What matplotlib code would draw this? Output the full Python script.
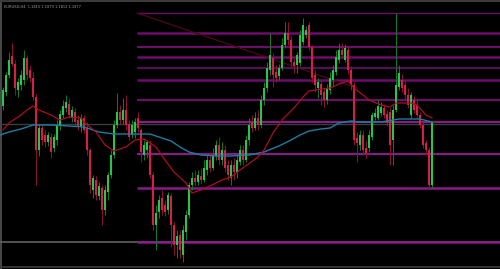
import numpy as np
import matplotlib
matplotlib.use("Agg")
import matplotlib.pyplot as plt

# H4 candles (bar index 0..143)
opens = [1.1894, 1.1908, 1.1925, 1.1944, 1.1936, 1.1910, 1.1915, 1.1920, 1.1942, 1.1930,
         1.1922, 1.1903, 1.1850, 1.1872, 1.1865, 1.1858, 1.1863, 1.1852, 1.1860, 1.1874,
         1.1885, 1.1892, 1.1896, 1.1882, 1.1888, 1.1880, 1.1873, 1.1882, 1.1872, 1.1850,
         1.1810, 1.1820, 1.1804, 1.1812, 1.1790, 1.1808, 1.1825, 1.1845, 1.1875, 1.1888,
         1.1880, 1.1890, 1.1876, 1.1865, 1.1868, 1.1882, 1.1870, 1.1845, 1.1850, 1.1855,
         1.1825, 1.1775, 1.1788, 1.1802, 1.1795, 1.1790, 1.1804, 1.1775, 1.1755, 1.1765,
         1.1745, 1.1768, 1.1785, 1.1815, 1.1822, 1.1818, 1.1824, 1.1820, 1.1830, 1.1840,
         1.1832, 1.1844, 1.1855, 1.1840, 1.1850, 1.1835, 1.1822, 1.1835, 1.1828, 1.1838,
         1.1850, 1.1840, 1.1860, 1.1878, 1.1872, 1.1882, 1.1875, 1.1900, 1.1912, 1.1930,
         1.1942, 1.1928, 1.1924, 1.1932, 1.1955, 1.1967, 1.1960, 1.1938, 1.1935, 1.1937,
         1.1958, 1.1965, 1.1975, 1.1953, 1.1925, 1.1912, 1.1916, 1.1908, 1.1900, 1.1910,
         1.1920, 1.1928, 1.1940, 1.1950, 1.1940, 1.1950, 1.1930, 1.1915, 1.1862, 1.1855,
         1.1865, 1.1852, 1.1852, 1.1863, 1.1883, 1.1882, 1.1887, 1.1892, 1.1886, 1.1888,
         1.1860, 1.1890, 1.1913, 1.1920, 1.1915, 1.1905, 1.1885, 1.1900, 1.1895, 1.1885,
         1.1875, 1.1857, 1.1850, 1.1815]
highs = [1.1913, 1.1928, 1.1948, 1.1957, 1.1940, 1.1922, 1.1930, 1.1950, 1.1945, 1.1935,
         1.1928, 1.1906, 1.1876, 1.1875, 1.1870, 1.1868, 1.1867, 1.1866, 1.1880, 1.1890,
         1.1900, 1.1905, 1.1902, 1.1894, 1.1892, 1.1885, 1.1886, 1.1885, 1.1878, 1.1852,
         1.1825, 1.1824, 1.1818, 1.1815, 1.1815, 1.1828, 1.1850, 1.1880, 1.1907, 1.1895,
         1.1902, 1.1905, 1.1880, 1.1880, 1.1882, 1.1888, 1.1872, 1.1860, 1.1860, 1.1860,
         1.1828, 1.1795, 1.1805, 1.1810, 1.1800, 1.1808, 1.1807, 1.1778, 1.1770, 1.1770,
         1.1775, 1.1790, 1.1818, 1.1828, 1.1830, 1.1830, 1.1832, 1.1840, 1.1845, 1.1848,
         1.1852, 1.1860, 1.1863, 1.1858, 1.1855, 1.1840, 1.1840, 1.1842, 1.1845, 1.1855,
         1.1855, 1.1865, 1.1882, 1.1885, 1.1888, 1.1890, 1.1905, 1.1918, 1.1938, 1.1967,
         1.1947, 1.1935, 1.1936, 1.1962, 1.1978, 1.1978, 1.1964, 1.1942, 1.1948, 1.1970,
         1.1982, 1.1974, 1.1978, 1.1955, 1.1930, 1.1922, 1.1920, 1.1912, 1.1916, 1.1928,
         1.1935, 1.1950, 1.1957, 1.1957, 1.1956, 1.1953, 1.1934, 1.1918, 1.1868, 1.1870,
         1.1870, 1.1860, 1.1870, 1.1888, 1.1892, 1.1900, 1.1898, 1.1896, 1.1890, 1.1892,
         1.1895, 1.1987, 1.1935, 1.1926, 1.1920, 1.1912, 1.1908, 1.1904, 1.1900, 1.1888,
         1.1878, 1.1860, 1.1853, 1.1879]
lows = [1.1890, 1.1904, 1.1922, 1.1934, 1.1905, 1.1903, 1.1910, 1.1915, 1.1920, 1.1918,
        1.1900, 1.1815, 1.1844, 1.1855, 1.1853, 1.1854, 1.1842, 1.1848, 1.1855, 1.1870,
        1.1882, 1.1888, 1.1882, 1.1878, 1.1874, 1.1870, 1.1868, 1.1867, 1.1845, 1.1807,
        1.1802, 1.1800, 1.1800, 1.1775, 1.1785, 1.1800, 1.1822, 1.1842, 1.1872, 1.1876,
        1.1876, 1.1870, 1.1860, 1.1862, 1.1862, 1.1868, 1.1838, 1.1840, 1.1842, 1.1822,
        1.1770, 1.1750, 1.1782, 1.1785, 1.1784, 1.1786, 1.1753, 1.1745, 1.1742, 1.1742,
        1.1738, 1.1760, 1.1782, 1.1810, 1.1814, 1.1815, 1.1816, 1.1818, 1.1825, 1.1828,
        1.1830, 1.1840, 1.1835, 1.1835, 1.1828, 1.1820, 1.1815, 1.1820, 1.1822, 1.1835,
        1.1835, 1.1838, 1.1855, 1.1868, 1.1870, 1.1870, 1.1872, 1.1895, 1.1908, 1.1925,
        1.1913, 1.1918, 1.1920, 1.1930, 1.1952, 1.1955, 1.1934, 1.1927, 1.1927, 1.1934,
        1.1955, 1.1962, 1.1950, 1.1918, 1.1908, 1.1902, 1.1895, 1.1893, 1.1896, 1.1906,
        1.1914, 1.1925, 1.1937, 1.1942, 1.1938, 1.1926, 1.1910, 1.1855, 1.1838, 1.1850,
        1.1845, 1.1842, 1.1848, 1.1860, 1.1880, 1.1880, 1.1884, 1.1882, 1.1874, 1.1835,
        1.1835, 1.1888, 1.1910, 1.1908, 1.1900, 1.1892, 1.1882, 1.1887, 1.1882, 1.1872,
        1.1852, 1.1845, 1.1812, 1.1812]
closes = [1.1910, 1.1925, 1.1940, 1.1936, 1.1912, 1.1918, 1.1925, 1.1942, 1.1925, 1.1922,
          1.1903, 1.1850, 1.1872, 1.1860, 1.1858, 1.1865, 1.1848, 1.1863, 1.1875, 1.1886,
          1.1894, 1.1898, 1.1885, 1.1890, 1.1878, 1.1874, 1.1882, 1.1870, 1.1850, 1.1815,
          1.1822, 1.1805, 1.1814, 1.1790, 1.1810, 1.1825, 1.1845, 1.1875, 1.1888, 1.1880,
          1.1890, 1.1875, 1.1863, 1.1875, 1.1878, 1.1872, 1.1848, 1.1855, 1.1858, 1.1825,
          1.1775, 1.1787, 1.1800, 1.1790, 1.1788, 1.1805, 1.1775, 1.1755, 1.1764, 1.1750,
          1.1770, 1.1785, 1.1815, 1.1822, 1.1818, 1.1825, 1.1820, 1.1832, 1.1840, 1.1832,
          1.1845, 1.1855, 1.1840, 1.1850, 1.1832, 1.1825, 1.1835, 1.1828, 1.1840, 1.1850,
          1.1840, 1.1860, 1.1875, 1.1872, 1.1882, 1.1875, 1.1900, 1.1912, 1.1932, 1.1945,
          1.1925, 1.1922, 1.1932, 1.1955, 1.1967, 1.1960, 1.1938, 1.1934, 1.1945, 1.1965,
          1.1975, 1.1970, 1.1953, 1.1922, 1.1915, 1.1918, 1.1905, 1.1900, 1.1912, 1.1922,
          1.1930, 1.1943, 1.1950, 1.1945, 1.1952, 1.1930, 1.1915, 1.1860, 1.1857, 1.1865,
          1.1850, 1.1847, 1.1865, 1.1885, 1.1887, 1.1894, 1.1893, 1.1885, 1.1877, 1.1855,
          1.1890, 1.1915, 1.1927, 1.1912, 1.1905, 1.1895, 1.1905, 1.1890, 1.1885, 1.1875,
          1.1855, 1.1850, 1.1815, 1.1877]

# moving averages (read at sample bars)
fast_ma_bar = [0, 2, 6, 8, 10, 12, 16, 19, 22, 26, 27, 31, 34, 37, 41, 44, 47, 51, 54, 57,
               61, 63, 66, 69, 73, 76, 79, 85, 87, 90, 93, 97, 100, 102, 106, 109, 112, 115,
               117, 120, 122, 126, 129, 131, 136, 138, 141, 143]
fast_ma = [1.1870, 1.1877, 1.1885, 1.1890, 1.1894, 1.1890, 1.1885, 1.1880, 1.1883, 1.1882,
           1.1878, 1.1868, 1.1855, 1.1849, 1.1853, 1.1860, 1.1861, 1.1853, 1.1840, 1.1828,
           1.1817, 1.1807, 1.1810, 1.1814, 1.1820, 1.1823, 1.1830, 1.1843, 1.1850, 1.1867,
           1.1880, 1.1892, 1.1903, 1.1909, 1.1911, 1.1912, 1.1916, 1.1919, 1.1912, 1.1905,
           1.1900, 1.1895, 1.1893, 1.1897, 1.1897, 1.1895, 1.1885, 1.1882]
slow_ma_bar = [-1, 2, 6, 10, 16, 22, 27, 32, 37, 46, 49, 52, 56, 59, 62, 66, 71, 76, 82, 87,
               92, 96, 99, 102, 106, 109, 112, 116, 119, 126, 132, 139, 143]
slow_ma = [1.1865, 1.1868, 1.1871, 1.1875, 1.1875, 1.1874, 1.1873, 1.1868, 1.1866, 1.1866,
           1.1866, 1.1863, 1.1859, 1.1853, 1.1848, 1.1845, 1.1844, 1.1844, 1.1845, 1.1848,
           1.1854, 1.1860, 1.1865, 1.1869, 1.1871, 1.1872, 1.1877, 1.1879, 1.1878, 1.1878,
           1.1881, 1.1881, 1.1878]

# horizontal levels drawn from bar ~44.7 to the right
levels = [1.1987, 1.1967, 1.1953, 1.1943, 1.1932, 1.1920, 1.1900, 1.18785, 1.1846, 1.1812, 1.1758]
level_width = [1.0, 1.8, 1.5, 1.8, 1.2, 1.8, 1.5, 1.5, 1.5, 1.8, 1.8]
level_start = 44.7
trend_bars = [44.7, 118]
trend_prices = [1.1987, 1.1912]
bid = 1.1876

o = np.array(opens); h = np.array(highs); l = np.array(lows); c = np.array(closes)
bars = np.arange(len(c))
up = c >= o

fig = plt.figure(figsize=(5.0, 2.69), dpi=100)
fig.patch.set_facecolor('black')
ax = fig.add_axes([0, 0, 1, 1])
ax.set_facecolor('black')
ax.set_xlim(-1, 165.67)
ax.set_ylim(1.1731, 1.2000)
ax.axis('off')

# grey frame / price lines
ax.axvline(-0.5, color='#555555', lw=1.2, zorder=1)
ax.axhline(1.19995, color='#3a3a3a', lw=1.5, zorder=1)
ax.axhline(1.1733, color='#3a3a3a', lw=1.2, zorder=1)
ax.axhline(1.1758, color='#606060', lw=1.2, zorder=1)
ax.axhline(bid, color='#3c3c3c', lw=1.0, zorder=1)

for lv, lw in zip(levels, level_width):
    col = '#8a1a8a' if lv < 1.189 else '#6e0c6e'
    ax.hlines(lv, level_start, 165.67, color=col, lw=lw, zorder=1.5)
ax.plot(trend_bars, trend_prices, color='#4a0c10', lw=0.9, zorder=1.5)

# candles
ax.vlines(bars[up], l[up], h[up], color='#127a2c', lw=0.7, zorder=2)
ax.vlines(bars[~up], l[~up], h[~up], color='#8c1430', lw=0.7, zorder=2)
ax.bar(bars[up], c[up] - o[up], bottom=o[up], width=0.7, color='#22c84a', zorder=2.5)
ax.bar(bars[~up], o[~up] - c[~up], bottom=c[~up], width=0.7, color='#d81e46', zorder=2.5)

ax.plot(slow_ma_bar, slow_ma, color='#1b7ea3', lw=1.0, zorder=3)
ax.plot(fast_ma_bar, fast_ma, color='#a8101e', lw=0.9, zorder=3)

ax.text(0.2, 1.19955, 'EURUSD,H4  1.1815 1.1879 1.1812 1.1877', color='#9a9a9a',
        fontsize=2.6, va='top', ha='left', zorder=4)

fig.savefig('out.png', dpi=100, facecolor='black')
